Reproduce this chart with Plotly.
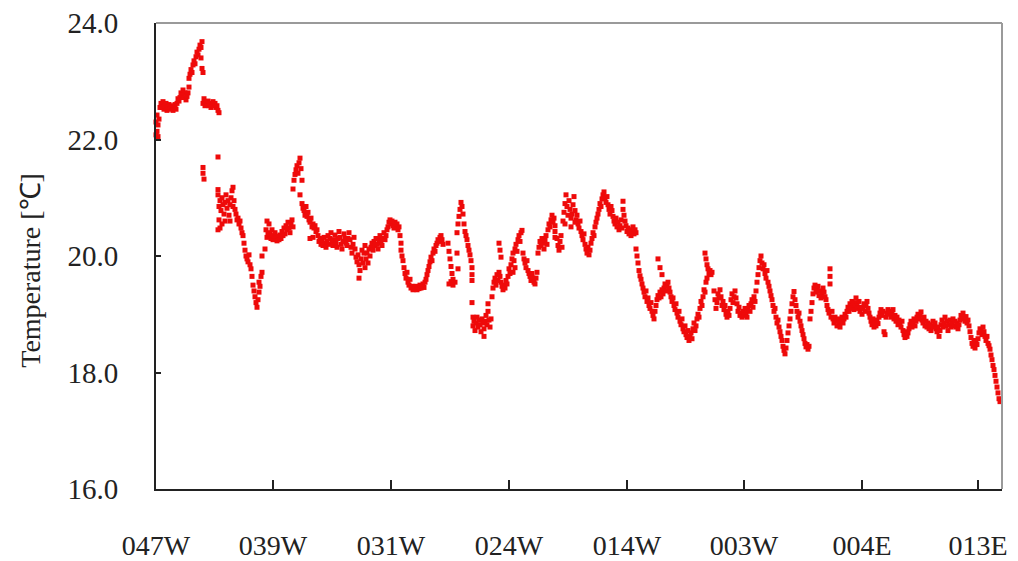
import plotly.graph_objects as go

# Sea-surface temperature along the transect (distance in track units, temperature in degC)
dist = [
    0, 0, 1, 1, 2, 2, 3, 3, 4, 5,
    *range(6, 35),
    34, 35, 36, 37, 38, 39, 40, 41, 42, 43, 44, 45, 46, 47, 47, 48, 46,
    *range(48, 65),
    48, 48, 49, 63, 63, 63,
    64, 64, 65, 65, 66, 67, 67, 68, 69, 70, 70, 71, 72, 73, 74, 75, 76, 77, 78, 78, 79, 80, 81, 82, 63, 75,
    *range(83, 105), 104, 105, 106, 107, 107,
    110, 111, 112, 112, *range(113, 139),
    *range(138, 148), 145,
    *range(147, 163), 155, 158,
    *range(163, 211), 210, *range(211, 216), 204,
    *range(216, 247), 246, 247,
    *range(248, 272),
    *range(272, 289),
    293, 294, 295, 296, 297, 298, 294, 296, 298, 300,
    302, 303, 304, 305, 306, 307, 308, 302, 303,
    *range(309, 317), 317, 317, 317, 317,
    318, *range(318, 337), 329, 333,
    *range(337, 356), 344, 345, 346,
    *range(356, 368), 358, 360,
    *range(368, 383),
    *range(383, 393),
    *range(393, 401), 400, 400,
    *range(402, 408),
    *range(408, 423), 410, 416, 420,
    *range(423, 443),
    *range(443, 459),
    *range(459, 468), 468, 468, *range(469, 482),
    *range(481, 486),
    *range(486, 502),
    503, 505, 507,
    *range(502, 519),
    *range(519, 543),
    *range(543, 553),
    *range(550, 558),
    *range(559, 562),
    *range(562, 586),
    *range(586, 601),
    *range(601, 615),
    *range(615, 632),
    *range(632, 643),
    *range(643, 655),
    *range(655, 658),
    *range(658, 672),
    675, 675, 675,
    672, 673, 674, *range(676, 693),
    *range(693, 715),
    *range(715, 725),
    *range(725, 748),
    *range(748, 762),
    *range(762, 782),
    *range(782, 805),
    *range(805, 815),
    *range(815, 826),
    *range(826, 835),
    *range(835, 846),
]

temp = [
    22.38, 22.22, 22.08, 22.30, 22.14, 22.42, 22.25, 22.05, 22.35, 22.55,
    22.62, 22.55, 22.65, 22.52, 22.58, 22.62, 22.50, 22.56, 22.60, 22.52, 22.55, 22.58, 22.50, 22.54, 22.60,
    22.52, 22.62, 22.70, 22.66, 22.72, 22.80, 22.76, 22.85, 22.72, 22.80, 22.68, 22.74, 22.80, 22.90,
    23.05, 23.12, 23.20, 23.15, 23.28, 23.35, 23.30, 23.42, 23.50, 23.45, 23.55, 23.62, 23.58, 23.68, 23.22, 23.15, 23.40,
    22.62, 22.70, 22.58, 22.64, 22.60, 22.66, 22.58, 22.62, 22.55, 22.60, 22.65, 22.58, 22.62, 22.55, 22.58, 22.50, 22.46,
    21.52, 21.42, 21.32, 21.70, 21.14, 21.05,
    20.85, 20.62, 20.48, 20.95, 20.78, 20.55, 21.00, 20.88, 20.72, 20.92, 20.60, 21.05, 20.82, 20.95, 20.70, 20.88,
    21.00, 21.12, 21.18, 20.85, 20.95, 20.80, 20.72, 20.62, 20.45, 20.60,
    20.65, 20.55, 20.60, 20.48, 20.40, 20.35, 20.22, 20.10, 20.00, 19.95, 19.90, 20.02, 19.85, 19.78, 19.65, 19.50,
    19.40, 19.30, 19.20, 19.12, 19.25, 19.38, 19.55, 19.48, 19.65, 20.00, 19.72,
    20.12, 20.45, 20.60, 20.32,
    20.40, 20.55, 20.38, 20.30, 20.45, 20.28, 20.35, 20.40, 20.30, 20.26, 20.34, 20.28, 20.36, 20.30, 20.42, 20.35,
    20.48, 20.38, 20.52, 20.45, 20.58, 20.48, 20.40, 20.55, 20.62, 20.50,
    21.15, 21.30, 21.40, 21.48, 21.55, 21.42, 21.60, 21.68, 21.50, 21.30, 21.05,
    20.90, 20.82, 20.78, 20.70, 20.85, 20.68, 20.75, 20.62, 20.58, 20.65, 20.50, 20.55, 20.48, 20.52, 20.42, 20.45,
    20.30, 20.32,
    20.35, 20.25, 20.30, 20.20, 20.28, 20.18, 20.32, 20.22, 20.15, 20.26, 20.35, 20.20, 20.30, 20.40, 20.25, 20.18,
    20.28, 20.36, 20.22, 20.15, 20.30, 20.42, 20.32, 20.20, 20.12, 20.25, 20.38, 20.30, 20.22, 20.18, 20.30, 20.40,
    20.28, 20.15, 20.05, 20.20, 20.32, 20.12, 19.98, 19.90, 20.02, 19.85, 19.75, 19.95, 20.10, 19.88, 20.05, 20.18,
    19.80, 19.95, 20.05, 19.88, 20.12, 20.00, 19.62,
    20.15, 20.22, 20.10, 20.25, 20.18, 20.30, 20.20, 20.12, 20.28, 20.35, 20.22, 20.18, 20.30, 20.40, 20.28, 20.35,
    20.45, 20.50, 20.58, 20.62, 20.55, 20.60, 20.52, 20.48, 20.58, 20.50, 20.55, 20.45, 20.50, 20.35, 20.22,
    20.10, 20.00,
    19.92, 19.80, 19.70, 19.62, 19.72, 19.55, 19.50, 19.60, 19.45, 19.48, 19.42, 19.46, 19.44, 19.48, 19.42, 19.46,
    19.44, 19.50, 19.45, 19.48, 19.52, 19.46, 19.55, 19.60,
    19.68, 19.75, 19.82, 19.90, 19.98, 19.92, 20.05, 20.12, 20.08, 20.18, 20.22, 20.28, 20.25, 20.32, 20.35, 20.28, 20.20,
    20.22, 20.08, 19.95, 19.82, 19.70, 19.60, 19.52, 19.56, 19.50, 19.55,
    20.40, 20.55, 20.68, 20.80, 20.92, 20.85, 20.72, 20.05, 19.78,
    20.55, 20.42, 20.35, 20.28, 20.18, 20.10, 20.02, 19.92, 19.80, 19.68, 19.58, 19.20,
    18.95, 18.80, 18.88, 18.72, 18.85, 18.95, 18.78, 18.90, 18.82, 18.70, 18.92, 18.85, 18.75, 18.88, 18.98, 18.82,
    19.05, 18.90, 18.78, 18.92, 18.62, 19.18,
    19.30, 19.45, 19.55, 19.62, 19.50, 19.68, 19.58, 19.72, 19.65, 19.55, 19.48, 19.42, 19.50, 19.45, 19.58, 19.52,
    19.65, 19.78, 19.70, 20.22, 20.10, 19.98,
    19.85, 19.95, 20.05, 19.92, 20.12, 20.20, 20.08, 20.28, 20.35, 20.25, 20.40, 20.44, 19.72, 19.80,
    20.05, 19.95, 19.88, 19.80, 19.92, 19.75, 19.70, 19.65, 19.58, 19.70, 19.62, 19.55, 19.52, 19.62, 19.72,
    20.05, 20.15, 20.25, 20.18, 20.30, 20.22, 20.12, 20.28, 20.35, 20.20,
    20.45, 20.55, 20.50, 20.62, 20.70, 20.58, 20.65, 20.52, 20.42, 20.32,
    20.30, 20.18, 20.10, 20.25, 20.35, 20.15,
    20.60, 20.75, 20.90, 21.05, 20.85, 20.70, 20.95, 20.80, 20.65, 20.72, 20.88, 21.02, 20.78, 20.62, 20.70,
    20.55, 20.50, 20.58,
    20.55, 20.48, 20.60, 20.42, 20.35, 20.28, 20.38, 20.20, 20.12, 20.05, 20.15, 20.02, 20.10, 20.22, 20.30, 20.40,
    20.35, 20.50, 20.58, 20.65,
    20.72, 20.80, 20.90, 20.85, 20.98, 21.05, 21.10, 21.00, 20.92, 21.02, 20.88, 20.80, 20.72, 20.85, 20.78, 20.68,
    20.60, 20.55, 20.65, 20.50, 20.58, 20.45, 20.52, 20.62, 20.48, 20.94, 20.80,
    20.70, 20.60, 20.52, 20.42, 20.48, 20.38, 20.45, 20.35, 20.42, 20.50, 20.38, 20.45, 20.40,
    20.12, 20.00, 19.88, 19.75, 19.66,
    19.60, 19.52, 19.45, 19.38, 19.30, 19.40, 19.22, 19.28, 19.15, 19.10, 19.20, 19.05, 18.98, 18.92, 19.05, 19.15,
    19.95, 19.80, 19.68,
    19.25, 19.32, 19.28, 19.38, 19.30, 19.42, 19.35, 19.45, 19.52, 19.40, 19.48, 19.55, 19.45, 19.38, 19.30, 19.22, 19.28,
    19.15, 19.08, 19.18, 19.02, 18.95, 19.05, 18.88, 18.82, 18.92, 18.75, 18.70, 18.80, 18.65, 18.60, 18.72, 18.55,
    18.62, 18.68, 18.58, 18.75, 18.85, 18.72, 18.80, 18.92,
    19.00, 18.95, 19.10, 19.22, 19.15, 19.30, 19.42, 19.38, 19.55, 19.62,
    20.05, 19.95, 19.85, 19.78, 19.70, 19.75, 19.68, 19.72,
    19.40, 19.25, 19.10,
    19.20, 19.35, 19.28, 19.42, 19.30, 19.15, 19.22, 19.08, 19.15, 19.00, 18.95, 19.05, 18.98, 19.10, 19.25, 19.35,
    19.20, 19.30, 19.40, 19.28, 19.18, 19.05, 19.12, 18.98,
    19.02, 18.95, 19.05, 18.98, 19.10, 19.02, 18.95, 19.08, 19.15, 19.05, 19.18, 19.25, 19.12, 19.30, 19.22,
    19.40, 19.55, 19.68, 19.80, 19.92, 20.00, 19.88, 19.78, 19.85, 19.70, 19.62, 19.75, 19.55, 19.48,
    19.40, 19.32, 19.25, 19.15, 19.05, 19.10, 18.95, 18.85, 18.90, 18.78, 18.70, 18.62, 18.55, 18.45, 18.38, 18.32, 18.42,
    18.55, 18.68, 18.80, 18.92, 19.05, 19.18, 19.30, 19.39, 19.25, 19.15, 19.05,
    18.95, 19.02, 18.88, 18.80, 18.72, 18.65, 18.58, 18.50, 18.44, 18.48, 18.40, 18.45,
    18.92, 19.05, 19.20,
    19.35, 19.45, 19.50, 19.38, 19.42, 19.48, 19.32, 19.40, 19.28, 19.35, 19.45, 19.38, 19.30, 19.25,
    19.78, 19.65, 19.52,
    19.15, 19.08, 19.02, 18.95, 19.05, 18.92, 18.85, 18.95, 18.88, 18.80, 18.92, 18.85, 18.78, 18.88, 18.95, 18.85,
    18.92, 19.00, 18.95, 19.05,
    19.12, 19.05, 19.18, 19.10, 19.22, 19.15, 19.08, 19.20, 19.28, 19.15, 19.10, 19.22, 19.05, 19.12, 19.00, 19.10,
    19.18, 19.05, 19.15, 19.22, 19.10, 19.02,
    18.95, 18.88, 18.82, 18.92, 18.78, 18.85, 18.80, 18.90, 18.84, 18.95,
    19.02, 19.08, 18.98, 19.05, 18.70, 18.65, 18.95, 19.02, 19.08, 19.00, 19.05, 18.95, 19.02, 19.08, 18.92, 18.98,
    18.88, 18.95, 18.82, 18.90, 18.85, 18.78, 18.88,
    18.72, 18.65, 18.60, 18.70, 18.62, 18.68, 18.75, 18.82, 18.88, 18.78, 18.85, 18.92, 18.80, 18.88,
    18.95, 19.00, 18.92, 18.98, 19.04, 18.90, 18.85, 18.95, 18.80, 18.88, 18.78, 18.85, 18.75, 18.82, 18.72, 18.80,
    18.88, 18.78, 18.85, 18.75,
    18.70, 18.78, 18.62, 18.72, 18.82, 18.90, 18.78, 18.85, 18.95, 18.80, 18.88, 18.72, 18.82, 18.90, 18.78, 18.85,
    18.92, 18.80, 18.88, 18.78, 18.85, 18.75, 18.82,
    18.90, 18.98, 18.92, 19.02, 18.95, 18.88, 18.96, 18.85, 18.90, 18.80,
    18.70, 18.60, 18.50, 18.45, 18.55, 18.42, 18.52, 18.48, 18.58, 18.68, 18.75,
    18.72, 18.65, 18.78, 18.70, 18.62, 18.55, 18.62, 18.50, 18.46,
    18.40, 18.30, 18.22, 18.12, 18.05, 17.95, 17.85, 17.75, 17.65, 17.55, 17.50,
]

assert len(dist) == len(temp), (len(dist), len(temp))

# Longitude labels along the track
tick_pos = [1, 118, 236, 354, 472, 589, 707, 823]
tick_text = ["047W", "039W", "031W", "024W", "014W", "003W", "004E", "013E"]

y_ticks = [16, 18, 20, 22, 24]

serif = "Liberation Serif"

fig = go.Figure()
fig.add_trace(go.Scatter(
    x=dist, y=temp, mode="markers",
    marker=dict(symbol="square", size=5, color="#ee0a0a", line=dict(width=0)),
    cliponaxis=False, showlegend=False, hoverinfo="x+y",
))

fig.update_layout(
    width=1018, height=561,
    margin=dict(l=156, r=16, t=23, b=72, autoexpand=False),
    paper_bgcolor="white", plot_bgcolor="white",
    font=dict(family=serif, size=26, color="#222"),
    xaxis=dict(
        range=[1, 847], showgrid=False, zeroline=False, automargin=False,
        showline=True, linecolor="#222", linewidth=2,
        tickmode="array", tickvals=tick_pos, ticktext=tick_text,
        ticks="inside", ticklen=9, tickwidth=2, tickcolor="#222",
        ticklabelstandoff=30,
        tickfont=dict(family=serif, size=28, color="#222"),
    ),
    yaxis=dict(
        range=[16, 24], showgrid=False, zeroline=False, automargin=False,
        showline=True, linecolor="#222", linewidth=2,
        tickmode="array", tickvals=y_ticks, tickformat=".1f",
        ticks="inside", ticklen=5, tickwidth=2, tickcolor="#222",
        ticklabelstandoff=30,
        tickfont=dict(family=serif, size=29, color="#222"),
    ),
    shapes=[
        dict(type="line", xref="paper", yref="paper", x0=0, x1=1, y0=1, y1=1,
             line=dict(color="#9a9a9a", width=2)),
        dict(type="line", xref="paper", yref="paper", x0=1, x1=1, y0=0, y1=1,
             line=dict(color="#9a9a9a", width=2)),
    ],
    annotations=[
        dict(text="Temperature [℃]", xref="paper", yref="paper",
             x=-0.148, y=0.47, showarrow=False, textangle=-90,
             font=dict(family=serif, size=28, color="#222"),
             xanchor="center", yanchor="middle"),
    ],
)

fig.write_html("out.html")
